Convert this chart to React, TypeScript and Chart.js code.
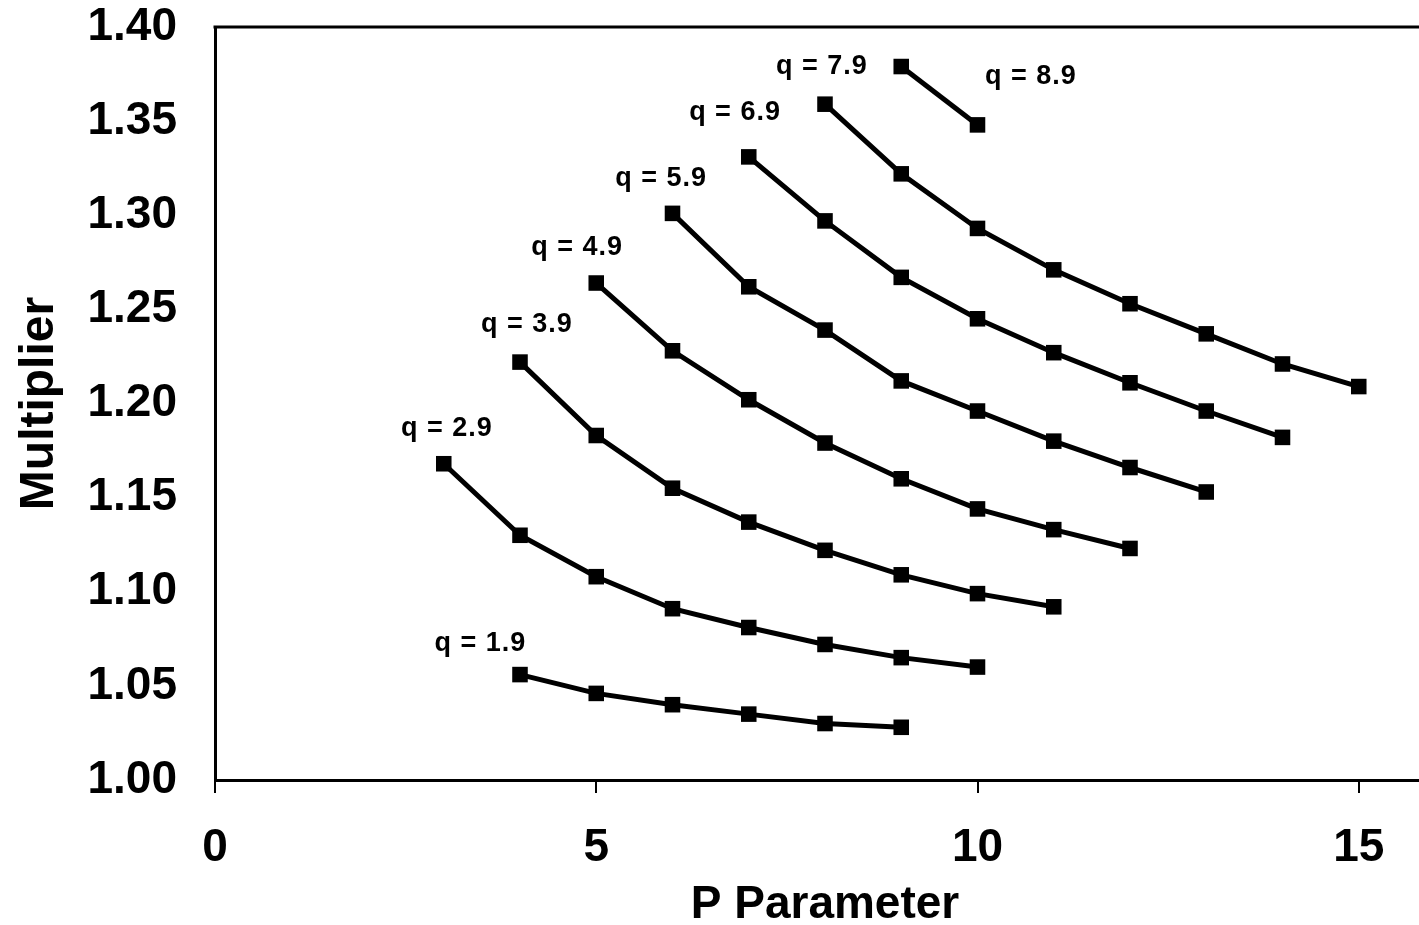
import React, { useEffect, useRef } from 'react';
import { Chart, registerables } from 'chart.js';

Chart.register(...registerables);

// ---- Data ----
const seriesNames = ['q = 1.9', 'q = 2.9', 'q = 3.9', 'q = 4.9', 'q = 5.9', 'q = 6.9', 'q = 7.9', 'q = 8.9'];
const seriesStartP = [4, 3, 4, 5, 6, 7, 8, 9];

const q19 = [1.056, 1.046, 1.040, 1.035, 1.030, 1.028];
const q29 = [1.168, 1.130, 1.108, 1.091, 1.081, 1.072, 1.065, 1.060];
const q39 = [1.222, 1.183, 1.155, 1.137, 1.122, 1.109, 1.099, 1.092];
const q49 = [1.264, 1.228, 1.202, 1.179, 1.160, 1.144, 1.133, 1.123];
const q59 = [1.301, 1.262, 1.239, 1.212, 1.196, 1.180, 1.166, 1.153];
const q69 = [1.331, 1.297, 1.267, 1.245, 1.227, 1.211, 1.196, 1.182];
const q79 = [1.359, 1.322, 1.293, 1.271, 1.253, 1.237, 1.221, 1.209];
const q89 = [1.379, 1.348];

// label anchor positions (data space)
const labelP = [3.48, 3.04, 4.09, 4.75, 5.85, 6.82, 7.96, 10.70];
const labelM = [1.0738, 1.1875, 1.2428, 1.2837, 1.3203, 1.3554, 1.3798, 1.3745];

const xTickValues = [0, 5, 10, 15];
const xTitle = 'P Parameter';
const yTitle = 'Multiplier';

const FONT = '"Liberation Sans", Arial, sans-serif';

export default function App() {
  const ref = useRef<HTMLCanvasElement>(null);

  useEffect(() => {
    if (!ref.current) return;
    const series = [q19, q29, q39, q49, q59, q69, q79, q89];
    const datasets = series.map((vals, i) => ({
      label: seriesNames[i],
      data: vals.map((y, j) => ({ x: seriesStartP[i] + j, y })),
      borderColor: '#000',
      backgroundColor: '#000',
      borderWidth: 5,
      pointStyle: 'rect' as const,
      pointRadius: 11,
      pointBorderWidth: 0,
      pointBackgroundColor: '#000',
      showLine: true,
      tension: 0,
      clip: false as const,
    }));

    const labelPlugin = {
      id: 'seriesLabels',
      afterDatasetsDraw(chart: any) {
        const { ctx, scales } = chart;
        ctx.save();
        ctx.fillStyle = '#000';
        ctx.font = `bold 27px ${FONT}`;
        try { (ctx as any).letterSpacing = '1px'; } catch (e) {}
        ctx.textAlign = 'center';
        ctx.textBaseline = 'middle';
        seriesNames.forEach((name, i) => {
          const px = scales.x.getPixelForValue(labelP[i]);
          const py = scales.y.getPixelForValue(labelM[i]);
          ctx.fillText(name, px, py + 2);
        });
        ctx.restore();
      },
    };

    const topBorderPlugin = {
      id: 'topBorder',
      afterDraw(chart: any) {
        const { ctx, chartArea } = chart;
        ctx.save();
        ctx.strokeStyle = '#000';
        ctx.lineWidth = 3;
        ctx.beginPath();
        ctx.moveTo(chartArea.left - 1.5, chartArea.top);
        ctx.lineTo(chartArea.right, chartArea.top);
        ctx.stroke();
        ctx.restore();
      },
    };

    const chart = new Chart(ref.current, {
      type: 'scatter',
      data: { datasets },
      options: {
        animation: false,
        responsive: false,
        maintainAspectRatio: false,
        layout: { padding: { top: 27, left: 0, right: 0, bottom: 0 } },
        plugins: {
          legend: { display: false },
          tooltip: { enabled: false },
        },
        scales: {
          x: {
            type: 'linear',
            min: 0,
            max: 16,
            afterFit: (scale: any) => {
              scale.height = 145;
              scale.paddingLeft = 0;
              scale.paddingRight = 0;
            },
            afterBuildTicks: (scale: any) => {
              scale.ticks = xTickValues.map((v) => ({ value: v }));
            },
            grid: {
              drawOnChartArea: false,
              drawTicks: true,
              tickLength: 13,
              color: '#000',
              lineWidth: 2,
            },
            border: { display: true, color: '#000', width: 3 },
            ticks: {
              color: '#000',
              padding: 28,
              maxRotation: 0,
              font: { family: FONT, size: 46, weight: 'bold' },
              callback: (v: any) => String(v),
            },
            title: {
              display: true,
              text: xTitle,
              color: '#000',
              font: { family: FONT, size: 46, weight: 'bold', lineHeight: 0.85 },
              padding: { top: 0, bottom: 0 },
            },
          },
          y: {
            type: 'linear',
            min: 1.0,
            max: 1.4,
            afterFit: (scale: any) => {
              scale.width = 215;
              scale.paddingTop = 0;
              scale.paddingBottom = 0;
            },
            grid: { drawOnChartArea: false, drawTicks: false },
            border: { display: true, color: '#000', width: 3 },
            ticks: {
              stepSize: 0.05,
              color: '#000',
              padding: 38,
              font: { family: FONT, size: 46, weight: 'bold' },
              callback: (v: any) => Number(v).toFixed(2),
            },
            title: {
              display: true,
              text: yTitle,
              color: '#000',
              font: { family: FONT, size: 48, weight: 'bold', lineHeight: 1 },
              padding: { top: 16, bottom: 0 },
            },
          },
        },
      } as any,
      plugins: [labelPlugin, topBorderPlugin],
    });
    return () => chart.destroy();
  }, []);

  return (
    <div
      style={{
        position: 'fixed',
        left: 0,
        top: 0,
        width: 1419,
        height: 925,
        overflow: 'hidden',
        background: '#fff',
      }}
    >
      <canvas ref={ref} width={1446} height={925} style={{ display: 'block', width: 1446, height: 925 }} />
    </div>
  );
}
